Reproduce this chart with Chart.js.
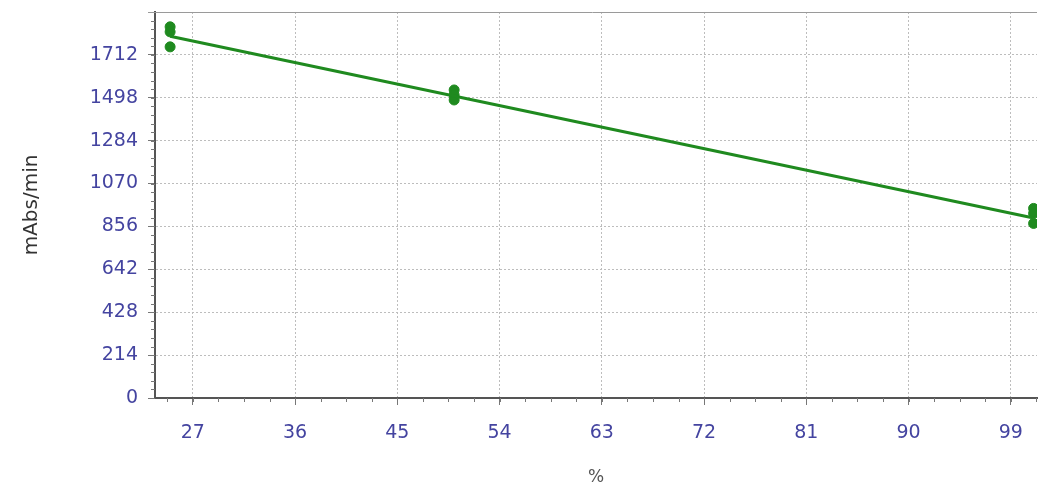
<!DOCTYPE html>
<html>
<head>
<meta charset="utf-8">
<script src="https://cdn.jsdelivr.net/npm/chart.js@4.4.1/dist/chart.umd.min.js"></script>
<style>
  html, body { margin: 0; padding: 0; background: #fff; }
  #chartbox { width: 1043px; height: 488px; }
</style>
</head>
<body>
<div id="chartbox"><canvas id="ratechart"></canvas></div>
<script>
// x ticks (%) and y ticks (mAbs/min); y axis runs up to 1926
var xTicks = [27, 36, 45, 54, 63, 72, 81, 90, 99];
var yTicks = [0, 214, 428, 642, 856, 1070, 1284, 1498, 1712];
var yTop = 1926;

// measured replicates
var pctVals  = [25, 25, 25, 50, 50, 50, 101, 101, 101];
var rateVals = [1852, 1827, 1752, 1537, 1512, 1487, 946, 921, 871];

// fitted line end points
var fitX = [25, 101];
var fitY = [1805, 898];

var green = '#1f8a1f';
var labelBlue = '#4444a0';

// minor ticks along both axes + the solid top frame line
var minorTicks = {
  id: 'minorTicks',
  afterDraw: function(chart) {
    var ctx = chart.ctx, xs = chart.scales.x, ys = chart.scales.y;
    var area = chart.chartArea;
    ctx.save();
    ctx.strokeStyle = '#777';
    ctx.lineWidth = 1;
    ctx.beginPath();
    for (var v = 0; v <= ys.max; v += 214 / 5) {
      var py = Math.round(ys.getPixelForValue(v)) + 0.5;
      ctx.moveTo(area.left - 4, py);
      ctx.lineTo(area.left, py);
    }
    for (var u = 27 - 9; u <= xs.max; u += 9 / 4) {
      if (u < xs.min) continue;
      var px = Math.round(xs.getPixelForValue(u)) + 0.5;
      ctx.moveTo(px, area.bottom);
      ctx.lineTo(px, area.bottom + 4);
    }
    ctx.stroke();
    ctx.strokeStyle = '#9a9a9a';
    ctx.beginPath();
    ctx.moveTo(area.left - 7, area.top + 0.5);
    ctx.lineTo(area.right, area.top + 0.5);
    ctx.stroke();
    ctx.restore();
  }
};

var ctx = document.getElementById('ratechart').getContext('2d');
var chart = new Chart(ctx, {
  type: 'scatter',
  data: {
    datasets: [
      {
        label: 'fit',
        type: 'line',
        data: fitX.map(function(x, i) { return { x: x, y: fitY[i] }; }),
        borderColor: green,
        borderWidth: 3,
        pointRadius: 0,
        fill: false
      },
      {
        label: 'replicates',
        data: pctVals.map(function(x, i) { return { x: x, y: rateVals[i] }; }),
        backgroundColor: green,
        borderColor: green,
        pointRadius: 5
      }
    ]
  },
  options: {
    responsive: true,
    maintainAspectRatio: false,
    animation: false,
    layout: { padding: { left: 20, right: 3, top: 12, bottom: 0 } },
    plugins: { legend: { display: false }, tooltip: { enabled: false } },
    scales: {
      x: {
        type: 'linear',
        min: 23.67,
        max: 101.3,
        afterBuildTicks: function(scale) {
          scale.ticks = xTicks.map(function(v) { return { value: v }; });
        },
        afterFit: function(scale) { scale.height = 90; },
        border: { color: '#555', width: 2, dash: [2, 2] },
        grid: {
          color: '#bdbdbd',
          lineWidth: 1,
          tickColor: '#777',
          tickLength: 7
        },
        ticks: {
          color: labelBlue,
          font: { family: 'DejaVu Sans', size: 19 },
          padding: 17,
          maxRotation: 0,
          callback: function(v) { return String(v); }
        },
        title: {
          display: true,
          text: '%',
          color: '#555',
          font: { family: 'DejaVu Sans', size: 17 },
          padding: { top: 0, bottom: 0 }
        }
      },
      y: {
        type: 'linear',
        min: 0,
        max: yTop,
        afterBuildTicks: function(scale) {
          scale.ticks = yTicks.map(function(v) { return { value: v }; });
        },
        afterFit: function(scale) {
          scale.width = 135;
          scale.paddingTop = 0;
          scale.paddingBottom = 0;
        },
        border: { color: '#555', width: 2, dash: [2, 2] },
        grid: {
          color: '#bdbdbd',
          lineWidth: 1,
          tickColor: '#777',
          tickLength: 7
        },
        ticks: {
          color: labelBlue,
          font: { family: 'DejaVu Sans', size: 19 },
          padding: 10,
          callback: function(v) { return String(v); }
        },
        title: {
          display: true,
          text: 'mAbs/min',
          color: '#333',
          font: { family: 'DejaVu Sans', size: 20 },
          padding: { top: 0, bottom: 0 }
        }
      }
    }
  },
  plugins: [minorTicks]
});
</script>
</body>
</html>
